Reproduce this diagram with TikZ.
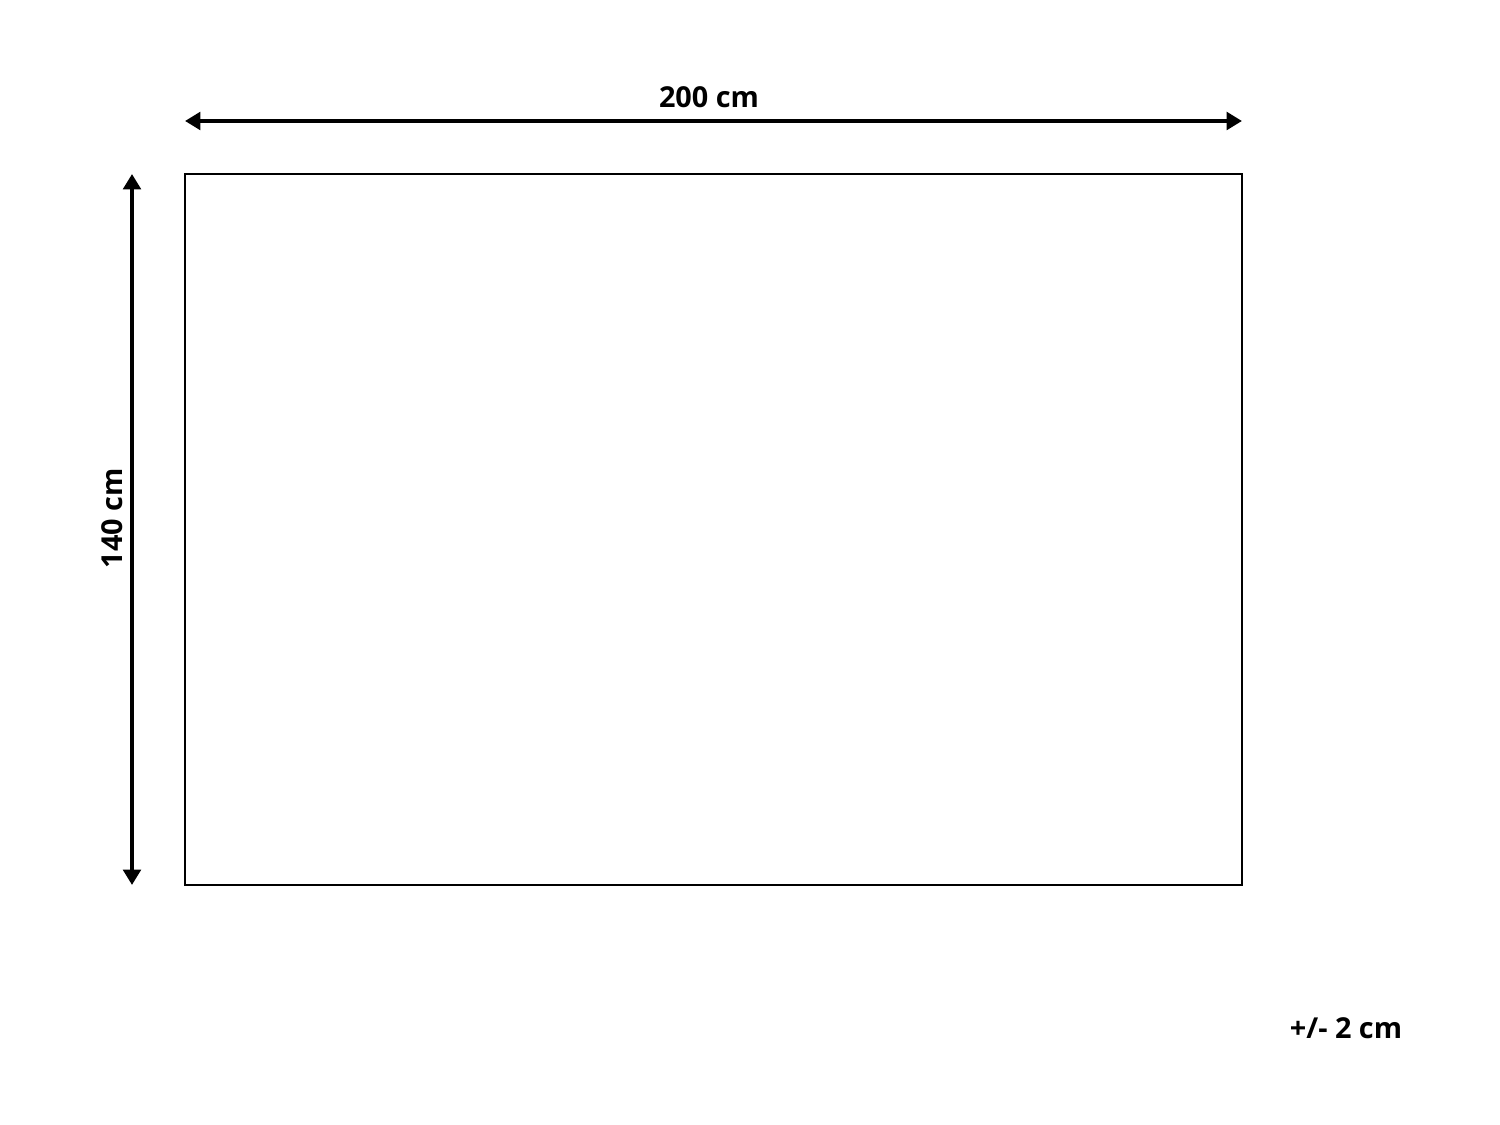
\documentclass[tikz,border=0pt]{standalone}
\usepackage{fontspec}
\setmainfont{Open Sans}
\usetikzlibrary{arrows.meta}
\tikzset{
    dimline/.style={line width=1.2pt, {Triangle[length=4.4pt,width=5pt]}-{Triangle[length=4.4pt,width=5pt]}},
    dimlabel/.style={font=\bfseries\fontsize{8.2}{10}\selectfont, inner sep=0pt}
}
\begin{document}
\begin{tikzpicture}[x=0.01cm, y=-0.01cm]
        \useasboundingbox (0,0) rectangle (1500,1125);

        \draw[line width=0.6pt] (185,174) rectangle (1242,885);

        \coordinate (wl) at (185,121);
        \coordinate (wr) at (1242,121);
        \coordinate (ht) at (132,174);
        \coordinate (hb) at (132,885);

        \draw[dimline] (wl) -- (wr);
        \draw[dimline] (ht) -- (hb);

        \node[dimlabel] (width) at (709,97) {200 cm};
        \node[dimlabel, rotate=90] (height) at (112,518) {140 cm};
        \node[dimlabel] (tol) at (1346,1028) {+/- 2 cm};
    \end{tikzpicture}
\end{document}
